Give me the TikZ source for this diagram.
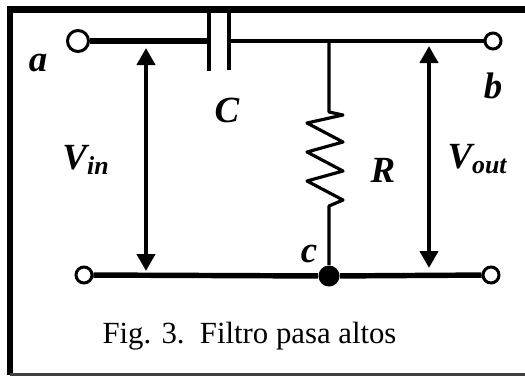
\documentclass[tikz,border=0pt]{standalone}
\usepackage{fontspec}
\setmainfont{Liberation Serif}
\usetikzlibrary{arrows.meta}
\tikzset{
    terminal/.style={circle, draw, line width=1.7pt, fill=white, inner sep=0pt, minimum size=0.32cm},
    junction/.style={circle, fill, inner sep=0pt, minimum size=0.42cm},
    thickwire/.style={line width=3.1pt},
    thinwire/.style={line width=1.8pt, line join=round},
    volt/.style={line width=2.3pt, {Triangle[width=0.36cm,length=0.34cm]}-{Triangle[width=0.36cm,length=0.34cm]}},
    lbl/.style={font=\fontsize{21}{21}\selectfont\bfseries\itshape, inner sep=0pt},
    caption/.style={font=\fontsize{17.5}{17.5}\selectfont, inner sep=0pt, anchor=base}
}
\begin{document}
\begin{tikzpicture}
    \useasboundingbox (0,0) rectangle (10.5,7.52);
    \draw[line width=4pt] (0.14,7.33) -- (10.5,7.33);
    \draw[line width=3.4pt] (0.2,7.40) -- (0.2,0.03);
    \draw[line width=1.5pt, black!75] (0.2,0.03) -- (10.5,0.03);
    \node[terminal, minimum size=0.42cm] (a) at (1.56,6.70) {};
    \node[terminal] (b) at (9.86,6.70) {};
    \node[terminal] (ga) at (1.68,2.02) {};
    \node[terminal] (gb) at (9.82,2.02) {};
    \node[junction] (c) at (6.58,2.0) {};
    \coordinate (C1) at (4.18,6.70);
    \coordinate (C2) at (4.58,6.70);
    \coordinate (Rt) at (6.58,6.70);
    \draw[thickwire] (a) -- (C1);
    \draw[thinwire] (C2) -- (Rt) -- (b);
    \draw[line width=2.4pt] (4.18,7.29) -- (4.18,6.10);
    \draw[line width=1.8pt] (4.58,7.29) -- (4.58,6.12);
    \draw[thinwire] (Rt) -- (6.58,5.28) -- (6.86,5.22)
        \foreach \k in {0,1,2} { -- (6.14,{5.06-0.58*\k}) -- (6.86,{4.68-0.58*\k}) }
        -- (6.58,3.40) -- (c);
    \draw[thickwire] (ga) -- (c) -- (gb);
    \coordinate (vi1) at (2.92,6.56);
    \coordinate (vi2) at (2.92,2.10);
    \coordinate (vo1) at (8.58,6.60);
    \coordinate (vo2) at (8.58,2.16);
    \draw[volt] (vi1) -- (vi2);
    \draw[volt] (vo1) -- (vo2);
    \node[lbl] (la) at (0.76,6.26) {a};
    \node[lbl] (lb) at (9.86,5.80) {b};
    \node[lbl] (lc) at (6.18,2.44) {c};
    \node[lbl] (lC) at (4.54,5.32) {C};
    \node[lbl] (lR) at (7.66,4.12) {R};
    \node[lbl] (lvin) at (1.72,4.32) {V\textsubscript{in}};
    \node[lbl] (lvout) at (9.55,4.34) {V\textsubscript{out}};
    \node[caption] (fig) at (4.99,0.66) {Fig. 3.\ \ Filtro pasa altos};
\end{tikzpicture}
\end{document}
